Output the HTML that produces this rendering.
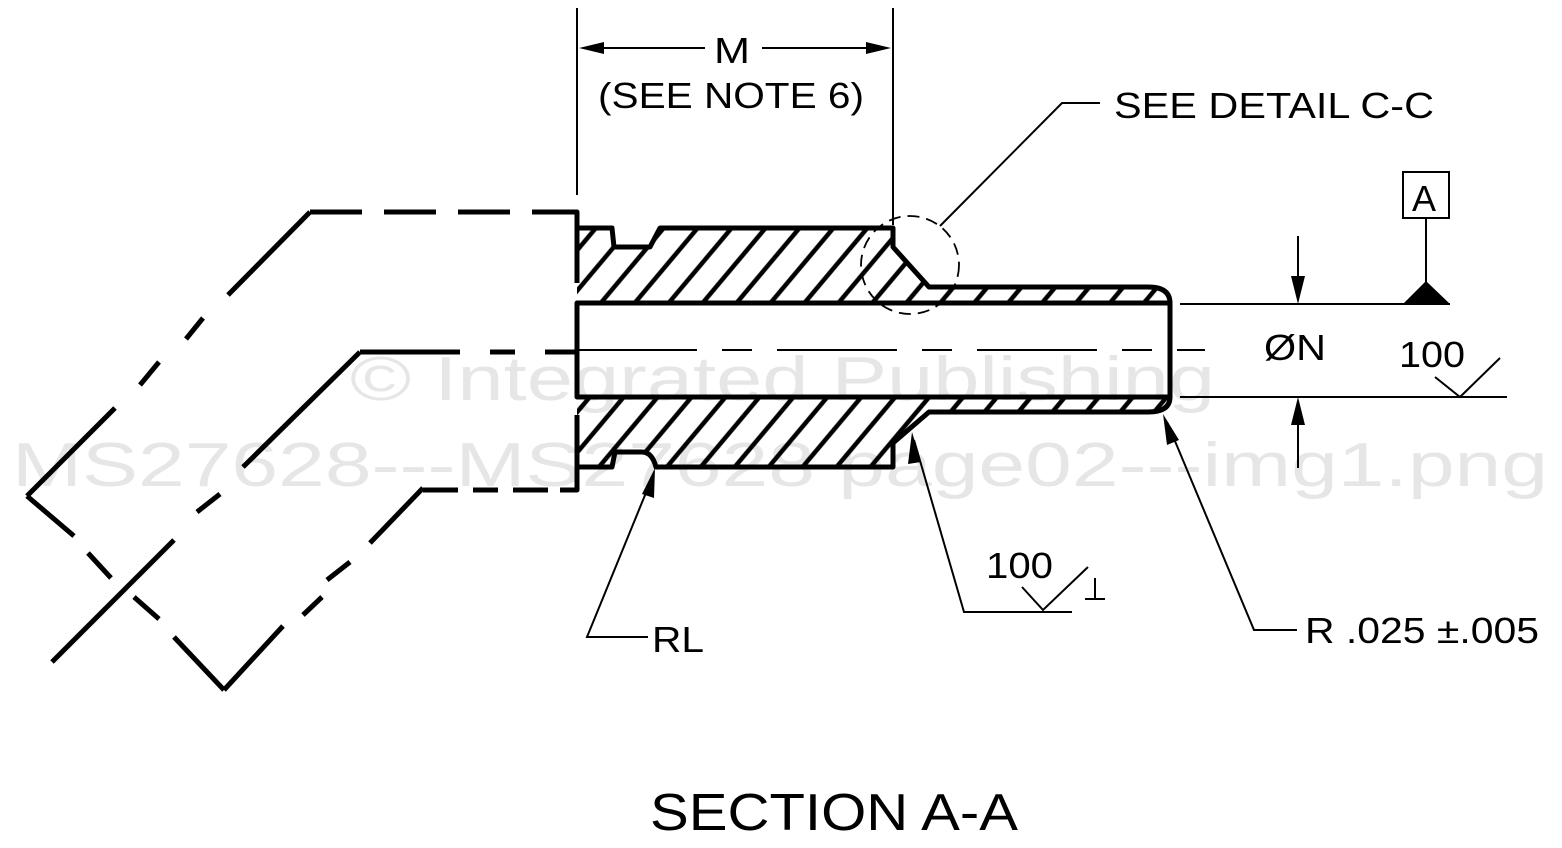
<!DOCTYPE html>
<html><head><meta charset="utf-8"><style>
html,body{margin:0;padding:0;background:#fff;}
svg{display:block;}
text{font-family:"Liberation Sans",Arial,sans-serif;fill:#000;}
</style></head><body>
<svg width="1562" height="848" viewBox="0 0 1562 848" xmlns="http://www.w3.org/2000/svg">
<defs>
<pattern id="h" patternUnits="userSpaceOnUse" width="26" height="200" patternTransform="rotate(40)">
<line x1="5" y1="0" x2="5" y2="200" stroke="#000" stroke-width="4.5"/>
</pattern>
</defs>
<!-- watermark -->
<text x="350" y="400" font-size="62" fill="#e6e6e6" style="fill:#e6e6e6" textLength="865" lengthAdjust="spacingAndGlyphs">© Integrated Publishing</text>
<text x="12" y="486" font-size="62" fill="#e6e6e6" style="fill:#e6e6e6" textLength="1536" lengthAdjust="spacingAndGlyphs">MS27628---MS27628 page02---img1.png</text>

<!-- hatch fills -->
<path d="M577,228 L612,228 L614,247 L650,247 L660,228 L893,228 L893,247 L929,287 L1148,287 Q1170,287 1170,303 L577,303 Z" fill="url(#h)"/>
<path d="M577,397 L1170,397 Q1170,412 1148,412 L929,412 L893,443 L893,467 L656,467 Q652,452 642,452 L615,452 L612,467 L577,467 Z" fill="url(#h)"/>

<g fill="none" stroke="#000" stroke-width="5" stroke-linejoin="round">
<!-- top outline -->
<path d="M577,228 L612,228 L614,247 L650,247 L660,228 L893,228 L893,247 L929,287 L1148,287 Q1170,287 1170,303"/>
<!-- bottom outline -->
<path d="M1170,397 Q1170,412 1148,412 L929,412 L893,443 L893,467 L656,467 Q652,452 642,452 L615,452 L612,467 L577,467"/>
<!-- bore -->
<rect x="577" y="303" width="593" height="94"/>
<!-- left wall -->
<path d="M560,212 L577,212 L577,283"/>
<path d="M577,415 L577,490 L560,490"/>
<!-- dashed horizontals -->
<path d="M310,212 L577,212" stroke-dasharray="52,22"/>
<path d="M360,352 L577,352" stroke-dasharray="100,30,25,30"/>
<path d="M423,490 L577,490" stroke-dasharray="35,15,25,15"/>
<!-- bent phantom lines -->
<path d="M310,212 L228,295 M203,318 L186,339 M159,362 L140,385 M115,408 L27,496"/>
<path d="M27,496 L74,536 M88,553 L111,578 M134,597 L159,619 M174,637 L224,690"/>
<path d="M224,690 L283,626 M303,615 L322,597 M327,580 L350,562 M370,543 L423,488"/>
<path d="M360,352 L243,467 M220,494 L197,512 M174,540 L52,662"/>
</g>

<!-- centerline -->
<path d="M577,350 L1205,350" stroke="#000" stroke-width="2" stroke-dasharray="120,25,30,25"/>

<!-- detail circle -->
<circle cx="910" cy="265" r="49" fill="none" stroke="#000" stroke-width="1.8" stroke-dasharray="12,7"/>
<path d="M940,226 L1062,103 L1100,103" fill="none" stroke="#000" stroke-width="2"/>
<text x="1114" y="118" font-size="36" textLength="320" lengthAdjust="spacingAndGlyphs">SEE DETAIL C-C</text>

<!-- M dimension -->
<g stroke="#000" stroke-width="2" fill="none">
<line x1="577" y1="8" x2="577" y2="195"/>
<line x1="893" y1="8" x2="893" y2="225"/>
<line x1="600" y1="48" x2="705" y2="48"/>
<line x1="762" y1="48" x2="870" y2="48"/>
</g>
<path d="M579,48 L604,42 L604,54 Z M891,48 L866,42 L866,54 Z" fill="#000"/>
<text x="714" y="63" font-size="36" textLength="36" lengthAdjust="spacingAndGlyphs">M</text>
<text x="598" y="108" font-size="36" textLength="266" lengthAdjust="spacingAndGlyphs">(SEE NOTE 6)</text>

<!-- right dims -->
<g stroke="#000" stroke-width="2" fill="none">
<line x1="1180" y1="304" x2="1450" y2="304"/>
<line x1="1180" y1="397" x2="1507" y2="397"/>
<line x1="1298" y1="236" x2="1298" y2="285"/>
<line x1="1298" y1="418" x2="1298" y2="468"/>
<rect x="1403" y="172" width="46" height="46"/>
<line x1="1426" y1="218" x2="1426" y2="284"/>
<path d="M1435,377 L1460,397 L1500,358"/>
</g>
<path d="M1298,304 L1291,276 L1305,276 Z M1298,397 L1291,425 L1305,425 Z M1426,281 L1403,304 L1450,304 Z" fill="#000"/>
<text x="1412" y="211" font-size="36">A</text>
<text x="1264" y="360" font-size="36" textLength="62" lengthAdjust="spacingAndGlyphs">ØN</text>
<text x="1399" y="367" font-size="36" textLength="66" lengthAdjust="spacingAndGlyphs">100</text>

<!-- leaders bottom -->
<g stroke="#000" stroke-width="2" fill="none">
<path d="M652,478 L587,637 L648,637"/>
<path d="M914,440 L964,612 L1072,612"/>
<path d="M1022,587 L1043,610 L1088,567"/>
<path d="M1095,578 L1095,599 M1085,599 L1105,599"/>
<path d="M1167,422 L1254,630 L1297,630"/>
</g>
<path d="M655,468 L654,498 L642,494 Z M912,432 L921,462 L908,464 Z M1163,414 L1179,440 L1167,445 Z" fill="#000"/>
<text x="652" y="652" font-size="36" textLength="52" lengthAdjust="spacingAndGlyphs">RL</text>
<text x="986" y="578" font-size="36" textLength="67" lengthAdjust="spacingAndGlyphs">100</text>
<text x="1305" y="643" font-size="36" textLength="234" lengthAdjust="spacingAndGlyphs">R .025 ±.005</text>

<text x="650" y="830" font-size="52" textLength="368" lengthAdjust="spacingAndGlyphs">SECTION A-A</text>
</svg>
</body></html>
